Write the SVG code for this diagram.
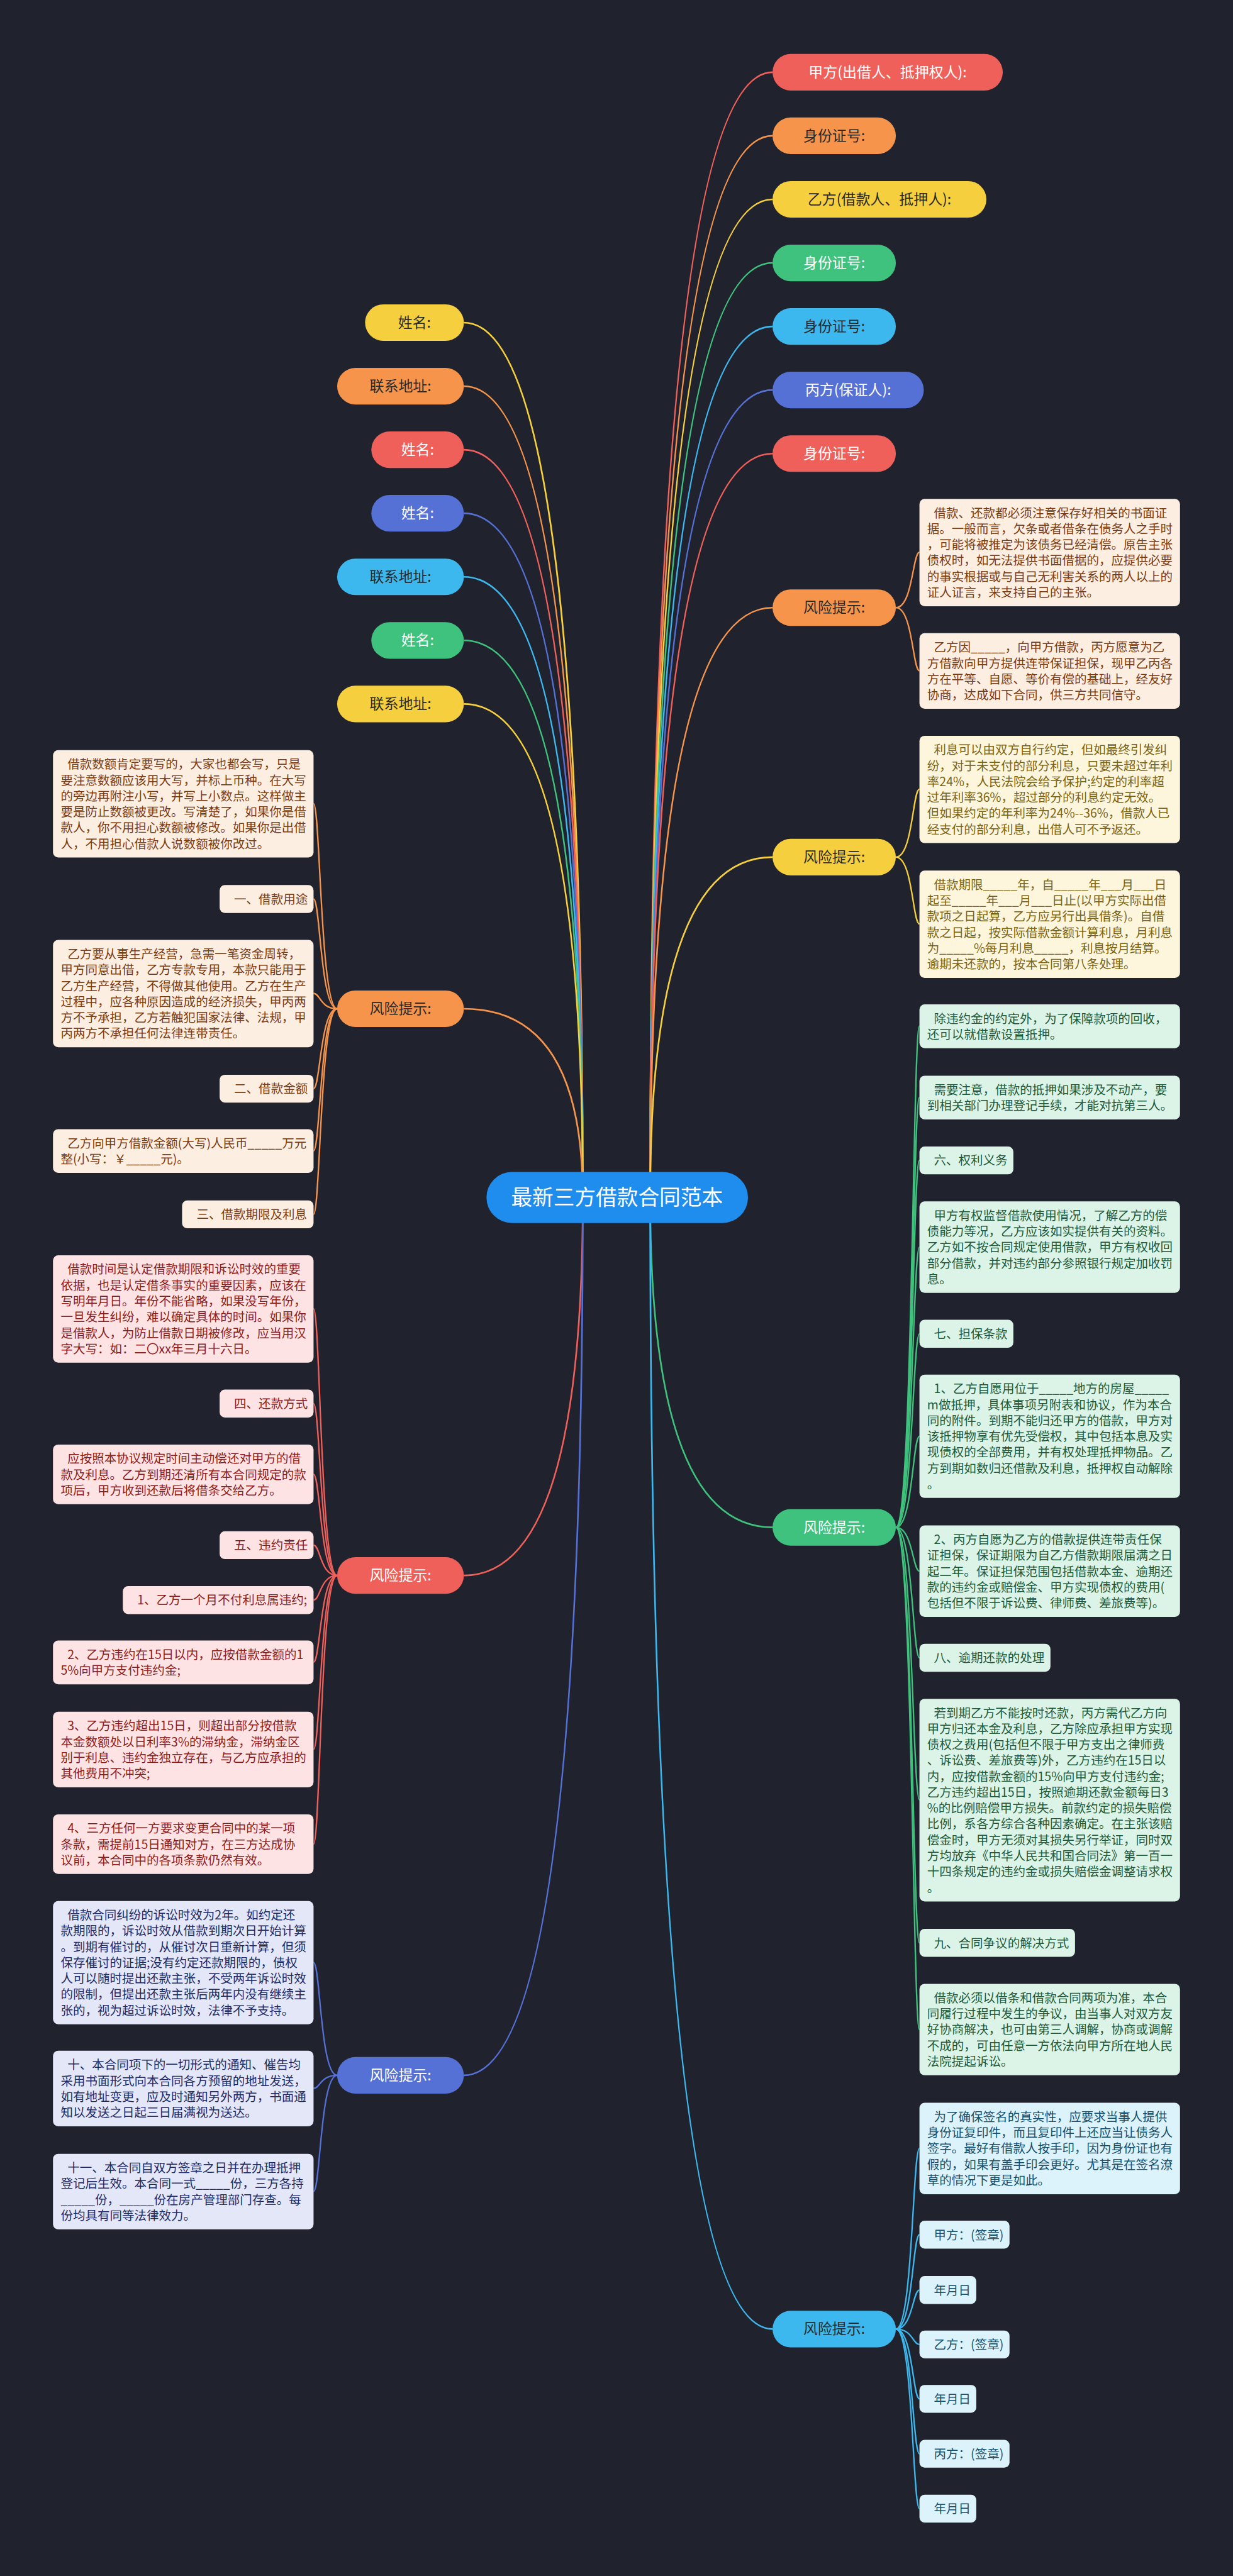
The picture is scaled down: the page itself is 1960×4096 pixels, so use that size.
<svg xmlns="http://www.w3.org/2000/svg" width="1960" height="4096" viewBox="0 0 1960 4096">
<style>
text{font-family:"Noto Sans CJK SC","Noto Sans",sans-serif}
.t{font-size:25.5px}
.l1{font-size:30px;text-anchor:middle}
.lc{stroke-width:3.5;fill:none}
.lk{stroke-width:3;fill:none}
.cR{stroke:#f0605a}.cO{stroke:#f6944b}.cY{stroke:#f5cf3d}.cG{stroke:#3fc27d}.cC{stroke:#3db8ee}.cI{stroke:#5671d6}
.fR{fill:#f0605a}.fO{fill:#f6944b}.fY{fill:#f5cf3d}.fG{fill:#3fc27d}.fC{fill:#3db8ee}.fI{fill:#5671d6}
.w{fill:#ffffff}.d{fill:#2a2a2a}
.bo{fill:#fdeee2}.to{fill:#7a3c12}
.by{fill:#fdf6dc}.ty{fill:#7a6414}
.bg{fill:#dcf4e8}.tg{fill:#1e5a3a}
.bb{fill:#dcf3fc}.tb{fill:#15506e}
.br{fill:#fde3e3}.tr{fill:#8c1d1d}
.bi{fill:#e3e7f8}.ti{fill:#1e2b66}
</style>
<rect x="0" y="0" width="1960" height="4096" fill="#20232e"/>
<g transform="scale(0.765625)">
<g id="connectors">
<path class="lc cR" d="M1350 2487 Q1350 150 1604 150"/>
<path class="lc cO" d="M1350 2487 Q1350 282 1604 282"/>
<path class="lc cY" d="M1350 2487 Q1350 414 1604 414"/>
<path class="lc cG" d="M1350 2487 Q1350 546 1604 546"/>
<path class="lc cC" d="M1350 2487 Q1350 678 1604 678"/>
<path class="lc cI" d="M1350 2487 Q1350 810 1604 810"/>
<path class="lc cR" d="M1350 2487 Q1350 942 1604 942"/>
<path class="lc cO" d="M1350 2487 Q1350 1262 1604 1262"/>
<path class="lc cY" d="M1350 2487 Q1350 1780 1604 1780"/>
<path class="lc cG" d="M1350 2487 Q1350 3172 1604 3172"/>
<path class="lc cC" d="M1350 2487 Q1350 4837 1604 4837"/>
<path class="lc cY" d="M1210 2487 Q1210 670 963 670"/>
<path class="lc cO" d="M1210 2487 Q1210 802 963 802"/>
<path class="lc cR" d="M1210 2487 Q1210 934 963 934"/>
<path class="lc cI" d="M1210 2487 Q1210 1066 963 1066"/>
<path class="lc cC" d="M1210 2487 Q1210 1198 963 1198"/>
<path class="lc cG" d="M1210 2487 Q1210 1330 963 1330"/>
<path class="lc cY" d="M1210 2487 Q1210 1462 963 1462"/>
<path class="lc cO" d="M1210 2487 Q1210 2095 963 2095"/>
<path class="lc cR" d="M1210 2487 Q1210 3272 963 3272"/>
<path class="lc cI" d="M1210 2487 Q1210 4310 963 4310"/>
<!-- R1 -->
<path class="lk cO" d="M1860 1262 C1895 1262 1895 1147 1909 1147"/>
<path class="lk cO" d="M1860 1262 C1895 1262 1895 1393 1909 1393"/>
<!-- R2 -->
<path class="lk cY" d="M1860 1780 C1895 1780 1895 1639 1909 1639"/>
<path class="lk cY" d="M1860 1780 C1895 1780 1895 1919 1909 1919"/>
<!-- R3 -->
<path class="lk cG" d="M1860 3172 C1895 3172 1895 2131 1909 2131"/>
<path class="lk cG" d="M1860 3172 C1895 3172 1895 2279 1909 2279"/>
<path class="lk cG" d="M1860 3172 C1895 3172 1895 2410 1909 2410"/>
<path class="lk cG" d="M1860 3172 C1895 3172 1895 2590 1909 2590"/>
<path class="lk cG" d="M1860 3172 C1895 3172 1895 2770 1909 2770"/>
<path class="lk cG" d="M1860 3172 C1895 3172 1895 2983 1909 2983"/>
<path class="lk cG" d="M1860 3172 C1895 3172 1895 3263 1909 3263"/>
<path class="lk cG" d="M1860 3172 C1895 3172 1895 3443 1909 3443"/>
<path class="lk cG" d="M1860 3172 C1895 3172 1895 3738 1909 3738"/>
<path class="lk cG" d="M1860 3172 C1895 3172 1895 4035 1909 4035"/>
<path class="lk cG" d="M1860 3172 C1895 3172 1895 4215 1909 4215"/>
<!-- R4 -->
<path class="lk cC" d="M1860 4837 C1895 4837 1895 4462 1909 4462"/>
<path class="lk cC" d="M1860 4837 C1895 4837 1895 4641 1909 4641"/>
<path class="lk cC" d="M1860 4837 C1895 4837 1895 4756 1909 4756"/>
<path class="lk cC" d="M1860 4837 C1895 4837 1895 4869 1909 4869"/>
<path class="lk cC" d="M1860 4837 C1895 4837 1895 4982 1909 4982"/>
<path class="lk cC" d="M1860 4837 C1895 4837 1895 5096 1909 5096"/>
<path class="lk cC" d="M1860 4837 C1895 4837 1895 5210 1909 5210"/>
<!-- LO -->
<path class="lk cO" d="M700 2095 C665 2095 665 1669 651 1669"/>
<path class="lk cO" d="M700 2095 C665 2095 665 1867 651 1867"/>
<path class="lk cO" d="M700 2095 C665 2095 665 2063 651 2063"/>
<path class="lk cO" d="M700 2095 C665 2095 665 2261 651 2261"/>
<path class="lk cO" d="M700 2095 C665 2095 665 2390 651 2390"/>
<path class="lk cO" d="M700 2095 C665 2095 665 2522 651 2522"/>
<!-- LR -->
<path class="lk cR" d="M700 3272 C665 3272 665 2718 651 2718"/>
<path class="lk cR" d="M700 3272 C665 3272 665 2915 651 2915"/>
<path class="lk cR" d="M700 3272 C665 3272 665 3062 651 3062"/>
<path class="lk cR" d="M700 3272 C665 3272 665 3209 651 3209"/>
<path class="lk cR" d="M700 3272 C665 3272 665 3323 651 3323"/>
<path class="lk cR" d="M700 3272 C665 3272 665 3452 651 3452"/>
<path class="lk cR" d="M700 3272 C665 3272 665 3633 651 3633"/>
<path class="lk cR" d="M700 3272 C665 3272 665 3830 651 3830"/>
<!-- LI -->
<path class="lk cI" d="M700 4310 C665 4310 665 4076 651 4076"/>
<path class="lk cI" d="M700 4310 C665 4310 665 4337 651 4337"/>
<path class="lk cI" d="M700 4310 C665 4310 665 4551 651 4551"/>
</g>

<g id="center">
<rect x="1010" y="2434" width="543" height="106" rx="53" fill="#1f8ded"/>
<text x="1281" y="2503" font-size="44" text-anchor="middle" fill="#ffffff">最新三方借款合同范本</text>
</g>

<!-- right level-1 -->
<g id="r-jia"><rect class="fR" x="1604" y="112" width="478" height="76" rx="38"/><text class="l1 w" x="1843" y="160.5">甲方(出借人、抵押权人):</text></g>
<g id="r-id1"><rect class="fO" x="1604" y="244" width="256" height="76" rx="38"/><text class="l1 d" x="1732" y="292.5">身份证号:</text></g>
<g id="r-yi"><rect class="fY" x="1604" y="376" width="444" height="76" rx="38"/><text class="l1 d" x="1826" y="424.5">乙方(借款人、抵押人):</text></g>
<g id="r-id2"><rect class="fG" x="1604" y="508" width="256" height="76" rx="38"/><text class="l1 w" x="1732" y="556.5">身份证号:</text></g>
<g id="r-id3"><rect class="fC" x="1604" y="640" width="256" height="76" rx="38"/><text class="l1 d" x="1732" y="688.5">身份证号:</text></g>
<g id="r-bing"><rect class="fI" x="1604" y="772" width="314" height="76" rx="38"/><text class="l1 w" x="1761" y="820.5">丙方(保证人):</text></g>
<g id="r-id4"><rect class="fR" x="1604" y="904" width="256" height="76" rx="38"/><text class="l1 w" x="1732" y="952.5">身份证号:</text></g>
<g id="r-risk1"><rect class="fO" x="1604" y="1224" width="256" height="76" rx="38"/><text class="l1 d" x="1732" y="1272.5">风险提示:</text></g>
<g id="r-risk2"><rect class="fY" x="1604" y="1742" width="256" height="76" rx="38"/><text class="l1 d" x="1732" y="1790.5">风险提示:</text></g>
<g id="r-risk3"><rect class="fG" x="1604" y="3134" width="256" height="76" rx="38"/><text class="l1 w" x="1732" y="3182.5">风险提示:</text></g>
<g id="r-risk4"><rect class="fC" x="1604" y="4799" width="256" height="76" rx="38"/><text class="l1 d" x="1732" y="4847.5">风险提示:</text></g>

<!-- left level-1 -->
<g id="l-name1"><rect class="fY" x="758" y="632" width="205" height="76" rx="38"/><text class="l1 d" x="860.5" y="680.5">姓名:</text></g>
<g id="l-addr1"><rect class="fO" x="700" y="764" width="263" height="76" rx="38"/><text class="l1 d" x="831.5" y="812.5">联系地址:</text></g>
<g id="l-name2"><rect class="fR" x="771" y="896" width="192" height="76" rx="38"/><text class="l1 w" x="867" y="944.5">姓名:</text></g>
<g id="l-name3"><rect class="fI" x="771" y="1028" width="192" height="76" rx="38"/><text class="l1 w" x="867" y="1076.5">姓名:</text></g>
<g id="l-addr2"><rect class="fC" x="700" y="1160" width="263" height="76" rx="38"/><text class="l1 d" x="831.5" y="1208.5">联系地址:</text></g>
<g id="l-name4"><rect class="fG" x="771" y="1292" width="192" height="76" rx="38"/><text class="l1 w" x="867" y="1340.5">姓名:</text></g>
<g id="l-addr3"><rect class="fY" x="700" y="1424" width="263" height="76" rx="38"/><text class="l1 d" x="831.5" y="1472.5">联系地址:</text></g>
<g id="l-risk1"><rect class="fO" x="700" y="2057" width="263" height="76" rx="38"/><text class="l1 d" x="831.5" y="2105.5">风险提示:</text></g>
<g id="l-risk2"><rect class="fR" x="700" y="3234" width="263" height="76" rx="38"/><text class="l1 w" x="831.5" y="3282.5">风险提示:</text></g>
<g id="l-risk3"><rect class="fI" x="700" y="4272" width="263" height="76" rx="38"/><text class="l1 w" x="831.5" y="4320.5">风险提示:</text></g>

<!-- R1 children -->
<g id="r1-a"><rect class="bo" x="1909" y="1036" width="541" height="223" rx="11"/>
<text class="t to"><tspan x="1939" y="1074.5">借款、还款都必须注意保存好相关的书面证</tspan><tspan x="1925" y="1107.5">据。一般而言，欠条或者借条在债务人之手时</tspan><tspan x="1925" y="1140.5">，可能将被推定为该债务已经清偿。原告主张</tspan><tspan x="1925" y="1173.5">债权时，如无法提供书面借据的，应提供必要</tspan><tspan x="1925" y="1206.5">的事实根据或与自己无利害关系的两人以上的</tspan><tspan x="1925" y="1239.5">证人证言，来支持自己的主张。</tspan></text></g>
<g id="r1-b"><rect class="bo" x="1909" y="1315" width="541" height="157" rx="11"/>
<text class="t to"><tspan x="1939" y="1353.5">乙方因_____，向甲方借款，丙方愿意为乙</tspan><tspan x="1925" y="1386.5">方借款向甲方提供连带保证担保，现甲乙丙各</tspan><tspan x="1925" y="1419.5">方在平等、自愿、等价有偿的基础上，经友好</tspan><tspan x="1925" y="1452.5">协商，达成如下合同，供三方共同信守。</tspan></text></g>

<!-- R2 children -->
<g id="r2-a"><rect class="by" x="1909" y="1528" width="541" height="223" rx="11"/>
<text class="t ty"><tspan x="1939" y="1566.5">利息可以由双方自行约定，但如最终引发纠</tspan><tspan x="1925" y="1599.5">纷，对于未支付的部分利息，只要未超过年利</tspan><tspan x="1925" y="1632.5">率24%，人民法院会给予保护;约定的利率超</tspan><tspan x="1925" y="1665.5">过年利率36%，超过部分的利息约定无效。</tspan><tspan x="1925" y="1698.5">但如果约定的年利率为24%--36%，借款人已</tspan><tspan x="1925" y="1731.5">经支付的部分利息，出借人可不予返还。</tspan></text></g>
<g id="r2-b"><rect class="by" x="1909" y="1808" width="541" height="223" rx="11"/>
<text class="t ty"><tspan x="1939" y="1846.5">借款期限_____年，自_____年___月___日</tspan><tspan x="1925" y="1879.5">起至_____年___月___日止(以甲方实际出借</tspan><tspan x="1925" y="1912.5">款项之日起算，乙方应另行出具借条)。自借</tspan><tspan x="1925" y="1945.5">款之日起，按实际借款金额计算利息，月利息</tspan><tspan x="1925" y="1978.5">为_____%每月利息_____，利息按月结算。</tspan><tspan x="1925" y="2011.5">逾期未还款的，按本合同第八条处理。</tspan></text></g>

<!-- R3 children -->
<g id="r3-a"><rect class="bg" x="1909" y="2086" width="541" height="91" rx="11"/>
<text class="t tg"><tspan x="1939" y="2124.5">除违约金的约定外，为了保障款项的回收，</tspan><tspan x="1925" y="2157.5">还可以就借款设置抵押。</tspan></text></g>
<g id="r3-b"><rect class="bg" x="1909" y="2234" width="541" height="91" rx="11"/>
<text class="t tg"><tspan x="1939" y="2272.5">需要注意，借款的抵押如果涉及不动产，要</tspan><tspan x="1925" y="2305.5">到相关部门办理登记手续，才能对抗第三人。</tspan></text></g>
<g id="r3-six"><rect class="bg" x="1909" y="2381" width="195" height="58" rx="11"/>
<text class="t tg" x="1939" y="2419.5">六、权利义务</text></g>
<g id="r3-d"><rect class="bg" x="1909" y="2495" width="541" height="190" rx="11"/>
<text class="t tg"><tspan x="1939" y="2533.5">甲方有权监督借款使用情况，了解乙方的偿</tspan><tspan x="1925" y="2566.5">债能力等况，乙方应该如实提供有关的资料。</tspan><tspan x="1925" y="2599.5">乙方如不按合同规定使用借款，甲方有权收回</tspan><tspan x="1925" y="2632.5">部分借款，并对违约部分参照银行规定加收罚</tspan><tspan x="1925" y="2665.5">息。</tspan></text></g>
<g id="r3-seven"><rect class="bg" x="1909" y="2741" width="195" height="58" rx="11"/>
<text class="t tg" x="1939" y="2779.5">七、担保条款</text></g>
<g id="r3-g1"><rect class="bg" x="1909" y="2855" width="541" height="256" rx="11"/>
<text class="t tg"><tspan x="1939" y="2893.5">1、乙方自愿用位于_____地方的房屋_____</tspan><tspan x="1925" y="2926.5">m做抵押，具体事项另附表和协议，作为本合</tspan><tspan x="1925" y="2959.5">同的附件。到期不能归还甲方的借款，甲方对</tspan><tspan x="1925" y="2992.5">该抵押物享有优先受偿权，其中包括本息及实</tspan><tspan x="1925" y="3025.5">现债权的全部费用，并有权处理抵押物品。乙</tspan><tspan x="1925" y="3058.5">方到期如数归还借款及利息，抵押权自动解除</tspan><tspan x="1925" y="3091.5">。</tspan></text></g>
<g id="r3-g2"><rect class="bg" x="1909" y="3168" width="541" height="190" rx="11"/>
<text class="t tg"><tspan x="1939" y="3206.5">2、丙方自愿为乙方的借款提供连带责任保</tspan><tspan x="1925" y="3239.5">证担保，保证期限为自乙方借款期限届满之日</tspan><tspan x="1925" y="3272.5">起二年。保证担保范围包括借款本金、逾期还</tspan><tspan x="1925" y="3305.5">款的违约金或赔偿金、甲方实现债权的费用(</tspan><tspan x="1925" y="3338.5">包括但不限于诉讼费、律师费、差旅费等)。</tspan></text></g>
<g id="r3-eight"><rect class="bg" x="1909" y="3414" width="272" height="58" rx="11"/>
<text class="t tg" x="1939" y="3452.5">八、逾期还款的处理</text></g>
<g id="r3-h"><rect class="bg" x="1909" y="3528" width="541" height="421" rx="11"/>
<text class="t tg"><tspan x="1939" y="3566.5">若到期乙方不能按时还款，丙方需代乙方向</tspan><tspan x="1925" y="3599.5">甲方归还本金及利息，乙方除应承担甲方实现</tspan><tspan x="1925" y="3632.5">债权之费用(包括但不限于甲方支出之律师费</tspan><tspan x="1925" y="3665.5">、诉讼费、差旅费等)外，乙方违约在15日以</tspan><tspan x="1925" y="3698.5">内，应按借款金额的15%向甲方支付违约金;</tspan><tspan x="1925" y="3731.5">乙方违约超出15日，按照逾期还款金额每日3</tspan><tspan x="1925" y="3764.5">%的比例赔偿甲方损失。前款约定的损失赔偿</tspan><tspan x="1925" y="3797.5">比例，系各方综合各种因素确定。在主张该赔</tspan><tspan x="1925" y="3830.5">偿金时，甲方无须对其损失另行举证，同时双</tspan><tspan x="1925" y="3863.5">方均放弃《中华人民共和国合同法》第一百一</tspan><tspan x="1925" y="3896.5">十四条规定的违约金或损失赔偿金调整请求权</tspan><tspan x="1925" y="3929.5">。</tspan></text></g>
<g id="r3-nine"><rect class="bg" x="1909" y="4006" width="323" height="58" rx="11"/>
<text class="t tg" x="1939" y="4044.5">九、合同争议的解决方式</text></g>
<g id="r3-k"><rect class="bg" x="1909" y="4120" width="541" height="190" rx="11"/>
<text class="t tg"><tspan x="1939" y="4158.5">借款必须以借条和借款合同两项为准，本合</tspan><tspan x="1925" y="4191.5">同履行过程中发生的争议，由当事人对双方友</tspan><tspan x="1925" y="4224.5">好协商解决，也可由第三人调解，协商或调解</tspan><tspan x="1925" y="4257.5">不成的，可由任意一方依法向甲方所在地人民</tspan><tspan x="1925" y="4290.5">法院提起诉讼。</tspan></text></g>

<!-- R4 children -->
<g id="r4-a"><rect class="bb" x="1909" y="4367" width="541" height="190" rx="11"/>
<text class="t tb"><tspan x="1939" y="4405.5">为了确保签名的真实性，应要求当事人提供</tspan><tspan x="1925" y="4438.5">身份证复印件，而且复印件上还应当让债务人</tspan><tspan x="1925" y="4471.5">签字。最好有借款人按手印，因为身份证也有</tspan><tspan x="1925" y="4504.5">假的，如果有盖手印会更好。尤其是在签名潦</tspan><tspan x="1925" y="4537.5">草的情况下更是如此。</tspan></text></g>
<g id="r4-s1"><rect class="bb" x="1909" y="4612" width="187" height="58" rx="11"/><text class="t tb" x="1939" y="4650.5">甲方：(签章)</text></g>
<g id="r4-d1"><rect class="bb" x="1909" y="4727" width="118" height="58" rx="11"/><text class="t tb" x="1939" y="4765.5">年月日</text></g>
<g id="r4-s2"><rect class="bb" x="1909" y="4840" width="187" height="58" rx="11"/><text class="t tb" x="1939" y="4878.5">乙方：(签章)</text></g>
<g id="r4-d2"><rect class="bb" x="1909" y="4953" width="118" height="58" rx="11"/><text class="t tb" x="1939" y="4991.5">年月日</text></g>
<g id="r4-s3"><rect class="bb" x="1909" y="5067" width="187" height="58" rx="11"/><text class="t tb" x="1939" y="5105.5">丙方：(签章)</text></g>
<g id="r4-d3"><rect class="bb" x="1909" y="5181" width="118" height="58" rx="11"/><text class="t tb" x="1939" y="5219.5">年月日</text></g>

<!-- LO children -->
<g id="lo-a"><rect class="bo" x="110" y="1558" width="541" height="223" rx="11"/>
<text class="t to"><tspan x="140" y="1596.5">借款数额肯定要写的，大家也都会写，只是</tspan><tspan x="126" y="1629.5">要注意数额应该用大写，并标上币种。在大写</tspan><tspan x="126" y="1662.5">的旁边再附注小写，并写上小数点。这样做主</tspan><tspan x="126" y="1695.5">要是防止数额被更改。写清楚了，如果你是借</tspan><tspan x="126" y="1728.5">款人，你不用担心数额被修改。如果你是出借</tspan><tspan x="126" y="1761.5">人，不用担心借款人说数额被你改过。</tspan></text></g>
<g id="lo-one"><rect class="bo" x="456" y="1838" width="195" height="58" rx="11"/><text class="t to" x="486" y="1876.5">一、借款用途</text></g>
<g id="lo-b"><rect class="bo" x="110" y="1952" width="541" height="223" rx="11"/>
<text class="t to"><tspan x="140" y="1990.5">乙方要从事生产经营，急需一笔资金周转，</tspan><tspan x="126" y="2023.5">甲方同意出借，乙方专款专用，本款只能用于</tspan><tspan x="126" y="2056.5">乙方生产经营，不得做其他使用。乙方在生产</tspan><tspan x="126" y="2089.5">过程中，应各种原因造成的经济损失，甲丙两</tspan><tspan x="126" y="2122.5">方不予承担，乙方若触犯国家法律、法规，甲</tspan><tspan x="126" y="2155.5">丙两方不承担任何法律连带责任。</tspan></text></g>
<g id="lo-two"><rect class="bo" x="456" y="2232" width="195" height="58" rx="11"/><text class="t to" x="486" y="2270.5">二、借款金额</text></g>
<g id="lo-c"><rect class="bo" x="110" y="2345" width="541" height="91" rx="11"/>
<text class="t to"><tspan x="140" y="2383.5">乙方向甲方借款金额(大写)人民币_____万元</tspan><tspan x="126" y="2416.5">整(小写：￥_____元)。</tspan></text></g>
<g id="lo-three"><rect class="bo" x="378" y="2493" width="273" height="58" rx="11"/><text class="t to" x="408" y="2531.5">三、借款期限及利息</text></g>

<!-- LR children -->
<g id="lr-a"><rect class="br" x="110" y="2607" width="541" height="223" rx="11"/>
<text class="t tr"><tspan x="140" y="2645.5">借款时间是认定借款期限和诉讼时效的重要</tspan><tspan x="126" y="2678.5">依据，也是认定借条事实的重要因素，应该在</tspan><tspan x="126" y="2711.5">写明年月日。年份不能省略，如果没写年份，</tspan><tspan x="126" y="2744.5">一旦发生纠纷，难以确定具体的时间。如果你</tspan><tspan x="126" y="2777.5">是借款人，为防止借款日期被修改，应当用汉</tspan><tspan x="126" y="2810.5">字大写：如：二〇xx年三月十六日。</tspan></text></g>
<g id="lr-four"><rect class="br" x="456" y="2886" width="195" height="58" rx="11"/><text class="t tr" x="486" y="2924.5">四、还款方式</text></g>
<g id="lr-b"><rect class="br" x="110" y="3000" width="541" height="124" rx="11"/>
<text class="t tr"><tspan x="140" y="3038.5">应按照本协议规定时间主动偿还对甲方的借</tspan><tspan x="126" y="3071.5">款及利息。乙方到期还清所有本合同规定的款</tspan><tspan x="126" y="3104.5">项后，甲方收到还款后将借条交给乙方。</tspan></text></g>
<g id="lr-five"><rect class="br" x="456" y="3180" width="195" height="58" rx="11"/><text class="t tr" x="486" y="3218.5">五、违约责任</text></g>
<g id="lr-p1"><rect class="br" x="255" y="3294" width="396" height="58" rx="11"/><text class="t tr" x="285" y="3332.5">1、乙方一个月不付利息属违约;</text></g>
<g id="lr-p2"><rect class="br" x="110" y="3407" width="541" height="91" rx="11"/>
<text class="t tr"><tspan x="140" y="3445.5">2、乙方违约在15日以内，应按借款金额的1</tspan><tspan x="126" y="3478.5">5%向甲方支付违约金;</tspan></text></g>
<g id="lr-p3"><rect class="br" x="110" y="3555" width="541" height="157" rx="11"/>
<text class="t tr"><tspan x="140" y="3593.5">3、乙方违约超出15日，则超出部分按借款</tspan><tspan x="126" y="3626.5">本金数额处以日利率3%的滞纳金，滞纳金区</tspan><tspan x="126" y="3659.5">别于利息、违约金独立存在，与乙方应承担的</tspan><tspan x="126" y="3692.5">其他费用不冲突;</tspan></text></g>
<g id="lr-p4"><rect class="br" x="110" y="3768" width="541" height="124" rx="11"/>
<text class="t tr"><tspan x="140" y="3806.5">4、三方任何一方要求变更合同中的某一项</tspan><tspan x="126" y="3839.5">条款，需提前15日通知对方，在三方达成协</tspan><tspan x="126" y="3872.5">议前，本合同中的各项条款仍然有效。</tspan></text></g>

<!-- LI children -->
<g id="li-a"><rect class="bi" x="110" y="3948" width="541" height="256" rx="11"/>
<text class="t ti"><tspan x="140" y="3986.5">借款合同纠纷的诉讼时效为2年。如约定还</tspan><tspan x="126" y="4019.5">款期限的，诉讼时效从借款到期次日开始计算</tspan><tspan x="126" y="4052.5">。到期有催讨的，从催讨次日重新计算，但须</tspan><tspan x="126" y="4085.5">保存催讨的证据;没有约定还款期限的，债权</tspan><tspan x="126" y="4118.5">人可以随时提出还款主张，不受两年诉讼时效</tspan><tspan x="126" y="4151.5">的限制，但提出还款主张后两年内没有继续主</tspan><tspan x="126" y="4184.5">张的，视为超过诉讼时效，法律不予支持。</tspan></text></g>
<g id="li-ten"><rect class="bi" x="110" y="4259" width="541" height="157" rx="11"/>
<text class="t ti"><tspan x="140" y="4297.5">十、本合同项下的一切形式的通知、催告均</tspan><tspan x="126" y="4330.5">采用书面形式向本合同各方预留的地址发送，</tspan><tspan x="126" y="4363.5">如有地址变更，应及时通知另外两方，书面通</tspan><tspan x="126" y="4396.5">知以发送之日起三日届满视为送达。</tspan></text></g>
<g id="li-eleven"><rect class="bi" x="110" y="4473" width="541" height="157" rx="11"/>
<text class="t ti"><tspan x="140" y="4511.5">十一、本合同自双方签章之日并在办理抵押</tspan><tspan x="126" y="4544.5">登记后生效。本合同一式_____份，三方各持</tspan><tspan x="126" y="4577.5">_____份，_____份在房产管理部门存查。每</tspan><tspan x="126" y="4610.5">份均具有同等法律效力。</tspan></text></g>
</g>
</svg>
